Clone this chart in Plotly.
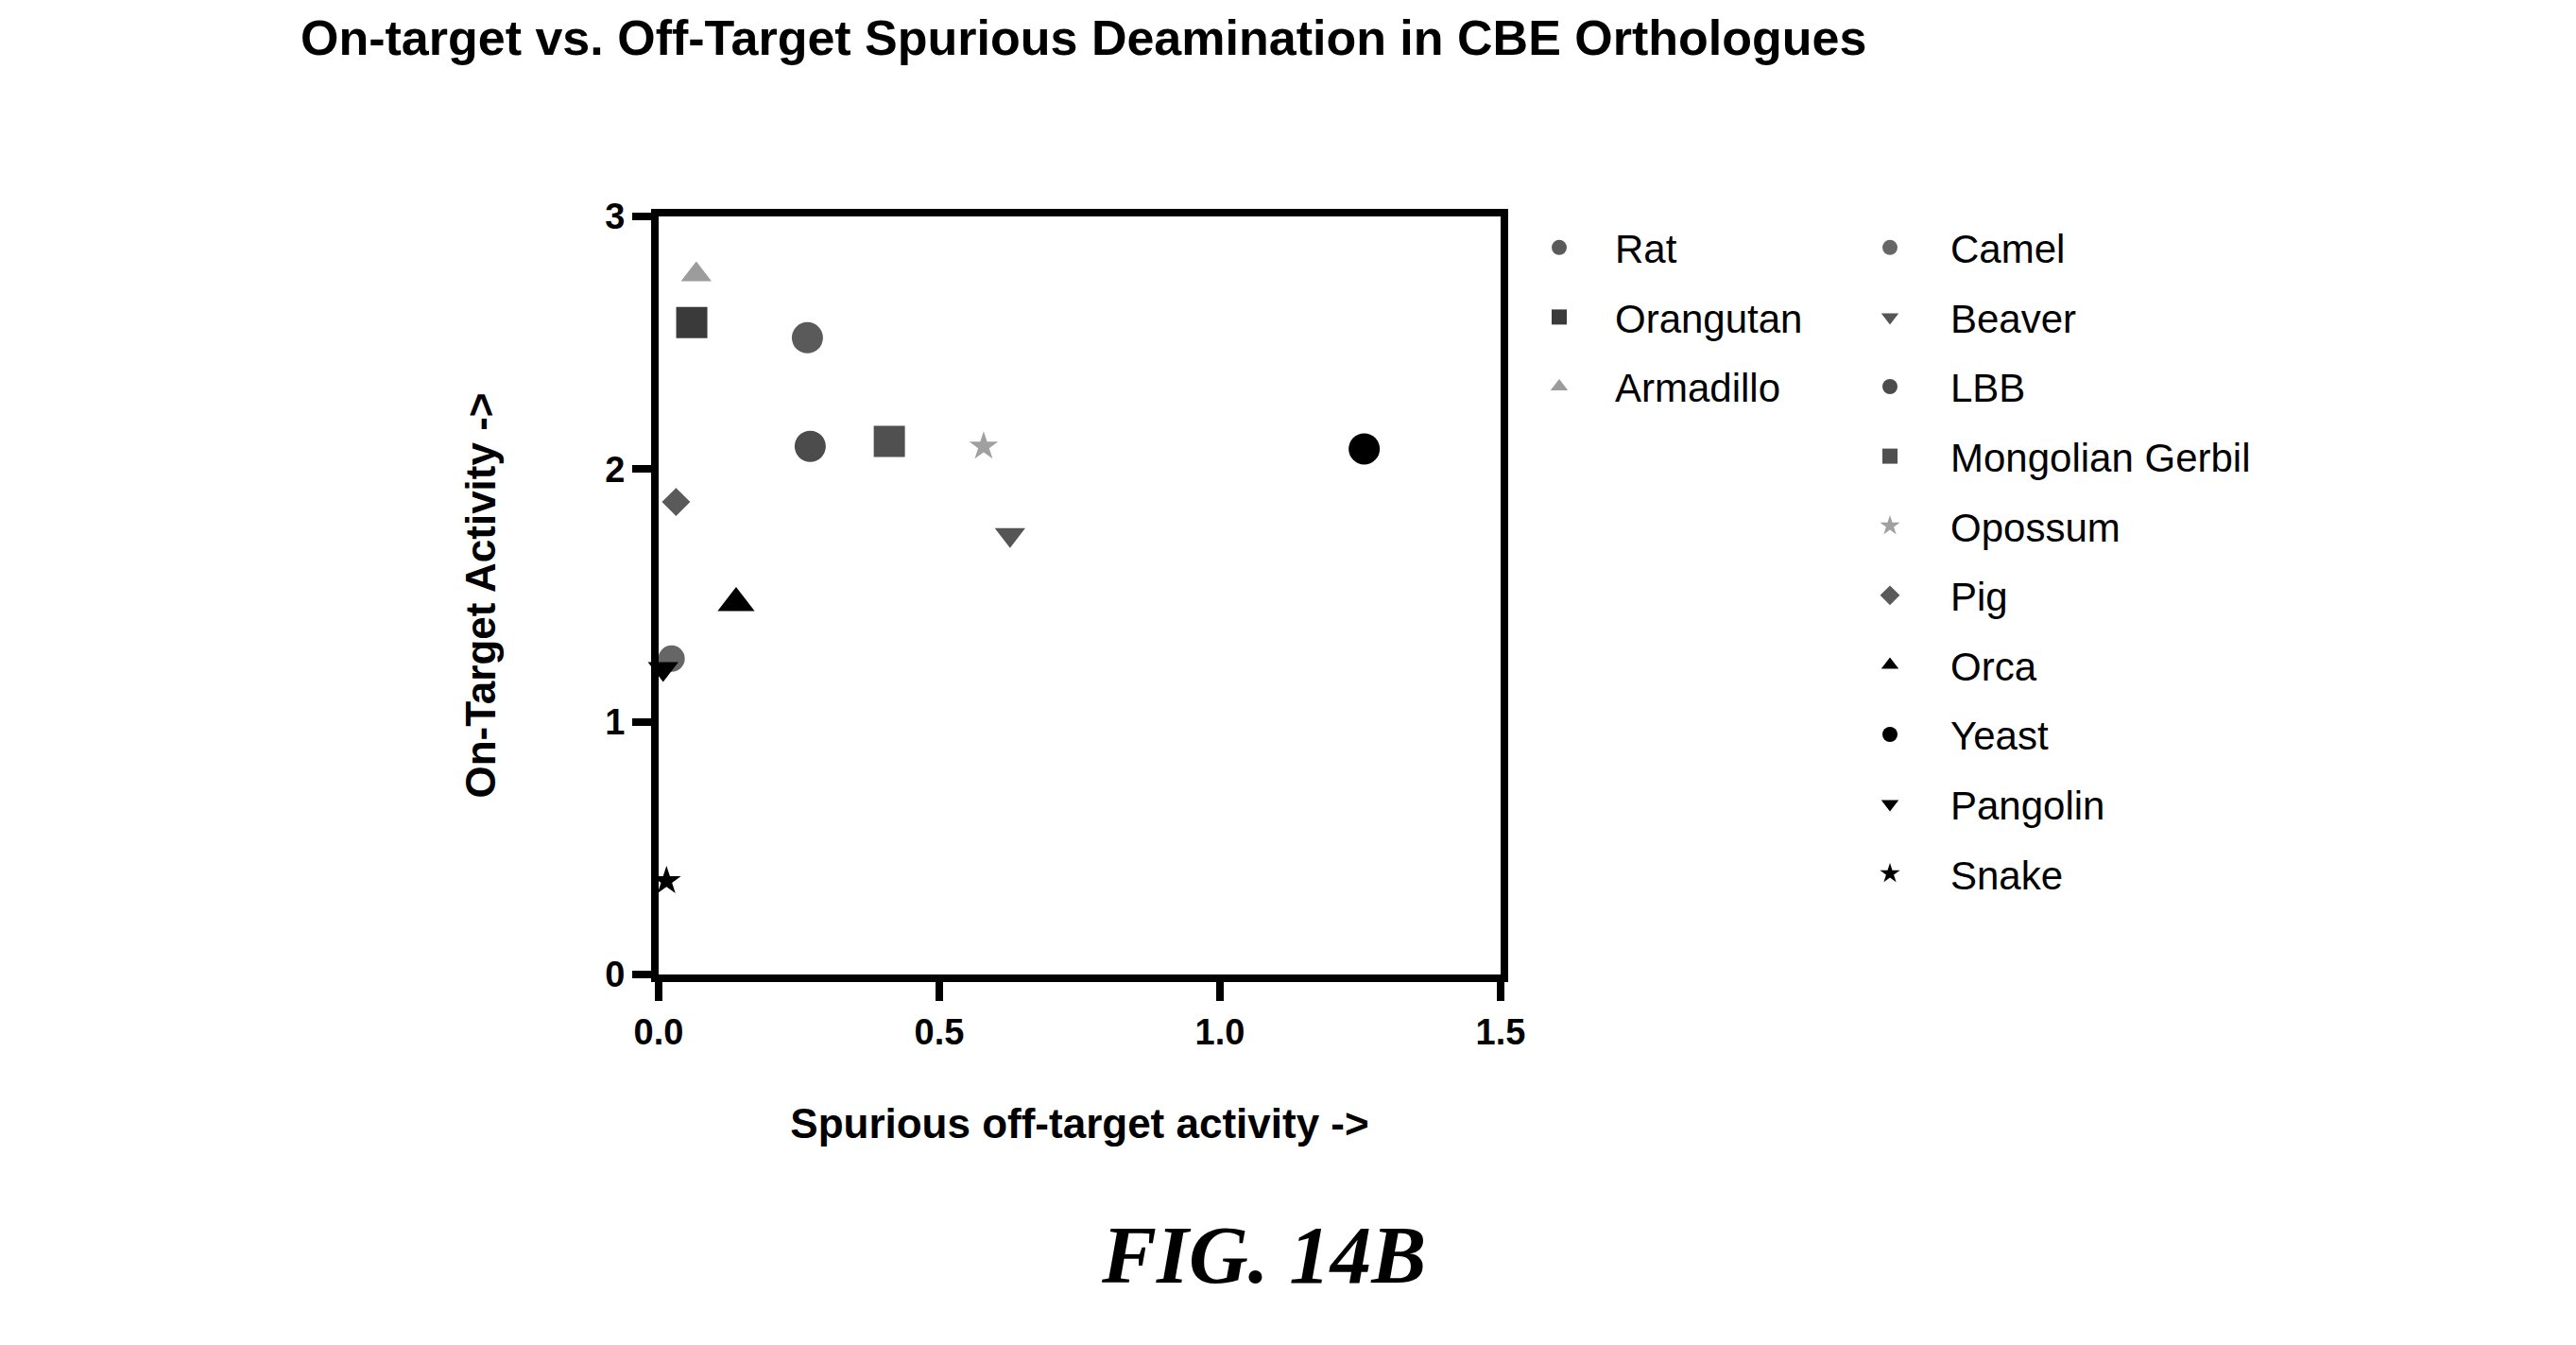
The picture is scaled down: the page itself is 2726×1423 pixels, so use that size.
import plotly.graph_objects as go

# ---- data ----
left_species = ["Rat", "Orangutan", "Armadillo"]
right_species = ["Camel", "Beaver", "LBB", "Mongolian Gerbil", "Opossum",
                 "Pig", "Orca", "Yeast", "Pangolin", "Snake"]

off_target = {
    "Rat": 0.265, "Orangutan": 0.059, "Armadillo": 0.067,
    "Camel": 0.023, "Beaver": 0.626, "LBB": 0.270, "Mongolian Gerbil": 0.411,
    "Opossum": 0.579, "Pig": 0.031, "Orca": 0.138, "Yeast": 1.257,
    "Pangolin": 0.008, "Snake": 0.014,
}
on_target = {
    "Rat": 2.52, "Orangutan": 2.58, "Armadillo": 2.77,
    "Camel": 1.25, "Beaver": 1.74, "LBB": 2.09, "Mongolian Gerbil": 2.11,
    "Opossum": 2.09, "Pig": 1.87, "Orca": 1.47, "Yeast": 2.08,
    "Pangolin": 1.21, "Snake": 0.37,
}

x_ticks = [0.0, 0.5, 1.0, 1.5]
x_tick_labels = ["0.0", "0.5", "1.0", "1.5"]
y_ticks = [0, 1, 2, 3]
y_tick_labels = ["0", "1", "2", "3"]

# ---- styles ----
style = {
    "Rat": ("circle", 33, "#5a5a5a"),
    "Orangutan": ("square", 33, "#3a3a3a"),
    "Armadillo": ("triangle-up", 28, "#9c9c9c"),
    "Camel": ("circle", 28, "#666666"),
    "Beaver": ("triangle-down", 28, "#555555"),
    "LBB": ("circle", 33, "#4c4c4c"),
    "Mongolian Gerbil": ("square", 33, "#505050"),
    "Opossum": ("star", 23, "#a0a0a0"),
    "Pig": ("diamond", 23, "#5a5a5a"),
    "Orca": ("triangle-up", 34, "#000000"),
    "Yeast": ("circle", 33, "#000000"),
    "Pangolin": ("triangle-down", 28, "#000000"),
    "Snake": ("star", 23, "#000000"),
}

FONT = "Liberation Sans, Arial, sans-serif"
W, H = 2726, 1423
PL, PR, PT, PB = 697, 1588, 229, 1031  # plot area in px

fig = go.Figure()
for legend_name, names in (("legend", left_species), ("legend2", right_species)):
    for n in names:
        sym, size, col = style[n]
        fig.add_trace(go.Scatter(
            x=[off_target[n]], y=[on_target[n]], mode="markers", name=n,
            legend=legend_name, legendgroup=n, cliponaxis=False,
            marker=dict(symbol=sym, size=size, color=col, line=dict(width=0)),
        ))

axis_common = dict(
    showline=True, linecolor="black", linewidth=8, mirror=True,
    ticks="outside", ticklen=20, tickwidth=8, tickcolor="black",
    showgrid=False, zeroline=False,
    tickfont=dict(family=FONT, size=38, color="black", weight="bold"),
)

leg_common = dict(
    font=dict(family=FONT, size=42, color="black"),
    bgcolor="rgba(0,0,0,0)", borderwidth=0, tracegroupgap=16,
    itemsizing="trace", xref="container", yref="container",
    xanchor="left", yanchor="top", maxheight=1400,
)

fig.update_layout(
    width=W, height=H,
    paper_bgcolor="white", plot_bgcolor="white",
    margin=dict(l=PL, r=W - PR, t=PT, b=H - PB, autoexpand=False),
    showlegend=True,
    title=dict(
        text="On-target vs. Off-Target Spurious Deamination in CBE Orthologues",
        font=dict(family=FONT, size=52, color="black", weight="bold"),
        x=318 / W, xanchor="left", xref="container",
        y=1 - 40 / H, yanchor="middle", yref="container",
    ),
    xaxis=dict(
        range=[0, 1.5], tickvals=x_ticks, ticktext=x_tick_labels,
        title=dict(text="Spurious off-target activity ->", standoff=65,
                   font=dict(family=FONT, size=44, color="black", weight="bold")),
        **axis_common,
    ),
    yaxis=dict(
        range=[0, 3], tickvals=y_ticks, ticktext=y_tick_labels,
        title=dict(text="On-Target Activity ->", standoff=105,
                   font=dict(family=FONT, size=44, color="black", weight="bold")),
        **axis_common,
    ),
    legend=dict(x=1591 / W, y=1 - 228 / H, itemwidth=108, **leg_common),
    legend2=dict(x=1936 / W, y=1 - 228 / H, itemwidth=118, **leg_common),
    annotations=[dict(
        text="FIG. 14B", xref="paper", yref="paper",
        x=(1337 - PL) / (PR - PL), y=(PB - 1327) / (PB - PT),
        xanchor="center", yanchor="middle", showarrow=False,
        font=dict(family="Liberation Serif, Times New Roman, serif", size=87,
                  color="black", weight="bold", style="italic"),
    )],
)

fig.write_html("out.html")
